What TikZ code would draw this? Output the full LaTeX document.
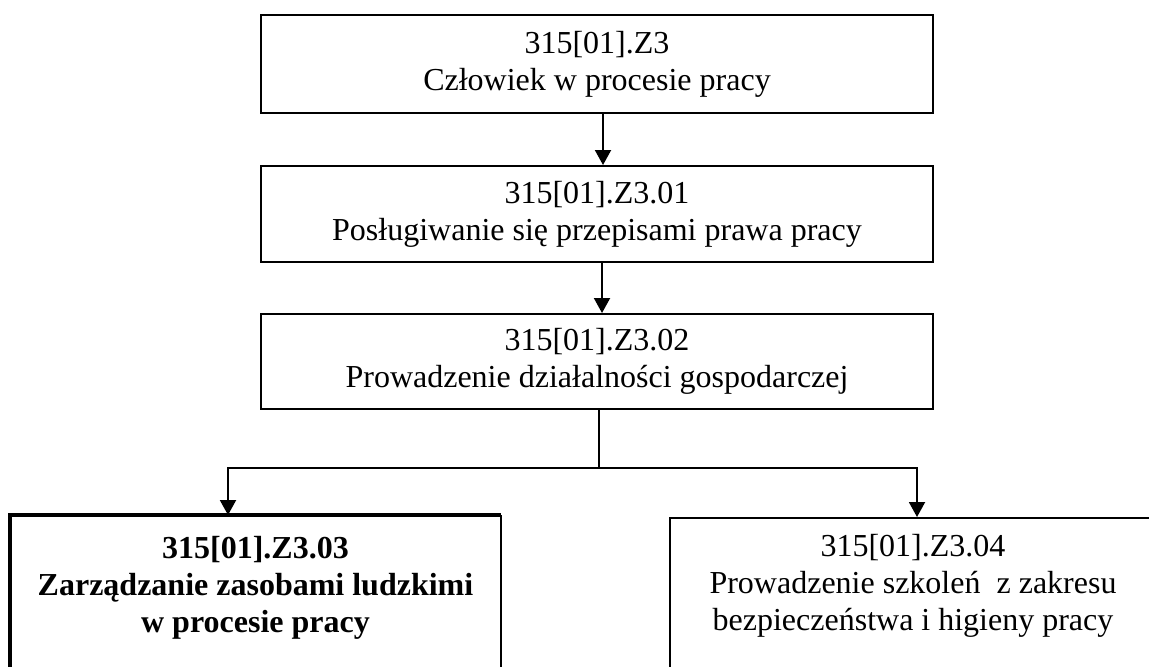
\documentclass[tikz,border=0pt]{standalone}
\usepackage{fontspec}
\setmainfont{Liberation Serif}
\usetikzlibrary{arrows.meta}

\begin{document}
\begin{tikzpicture}[x = 0.5pt, y = -0.5pt,
    modbox/.style = {draw, line width = 1pt, minimum width = 336pt, align = center, inner sep = 0pt, font = \fontsize{16pt}{18.35pt}\selectfont},
    frame/.style = {line width = #1, inner sep = 0pt},
    caption/.style = {align = center, inner sep = 0pt, font = \fontsize{16pt}{18.35pt}\selectfont},
    arr/.style = {-{Triangle[width = 8pt, length = 7.5pt]}, line width = 1pt}]
      \useasboundingbox (0, 0) rectangle (1149, 666);
      \clip (0, 0) rectangle (1149, 666);
      \node[modbox, minimum height = 49pt] (z3) at (597, 64) {315[01].Z3\\Człowiek w procesie pracy};
      \node[modbox, minimum height = 48pt] (z301) at (597, 214) {315[01].Z3.01\\Posługiwanie się przepisami prawa pracy};
      \node[modbox, minimum height = 47.5pt] (z302) at (597, 361.5) {315[01].Z3.02\\Prowadzenie działalności gospodarczej};
      \node[frame = 2pt, minimum width = 243.5pt, minimum height = 101.5pt] (z303) at (255.5, 618.5) {};
      \draw[line width = 2pt] (z303.south west) |- (z303.north east);
      \draw[line width = 0.6pt] (z303.north east) -- (z303.south east);
      \node[caption, font = \fontsize{16pt}{18.35pt}\selectfont\bfseries] (t303) at (255.5, 588) {315[01].Z3.03\\Zarządzanie zasobami ludzkimi\\w procesie pracy};
      \node[frame = 1pt, draw, minimum width = 245pt, minimum height = 101pt] (z304) at (915, 619) {};
      \node[caption] (t304) at (913, 586) {315[01].Z3.04\\Prowadzenie szkoleń~ z zakresu\\bezpieczeństwa i higieny pracy};
      % connectors
      \draw[arr] ([xshift = 3pt]z3.south) -- ([xshift = 3pt]z301.north);
      \draw[arr] ([xshift = 2.5pt]z301.south) -- ([xshift = 2.5pt]z302.north);
      \coordinate (fork) at (599, 468);
      \draw[line width = 1pt] (z302.south -| fork) -- (fork);
      \draw[arr] (fork) -| ([xshift = -13.75pt]z303.north);
      \draw[arr] (fork) -| ([xshift = 1pt]z304.north);
    \end{tikzpicture}
\end{document}
